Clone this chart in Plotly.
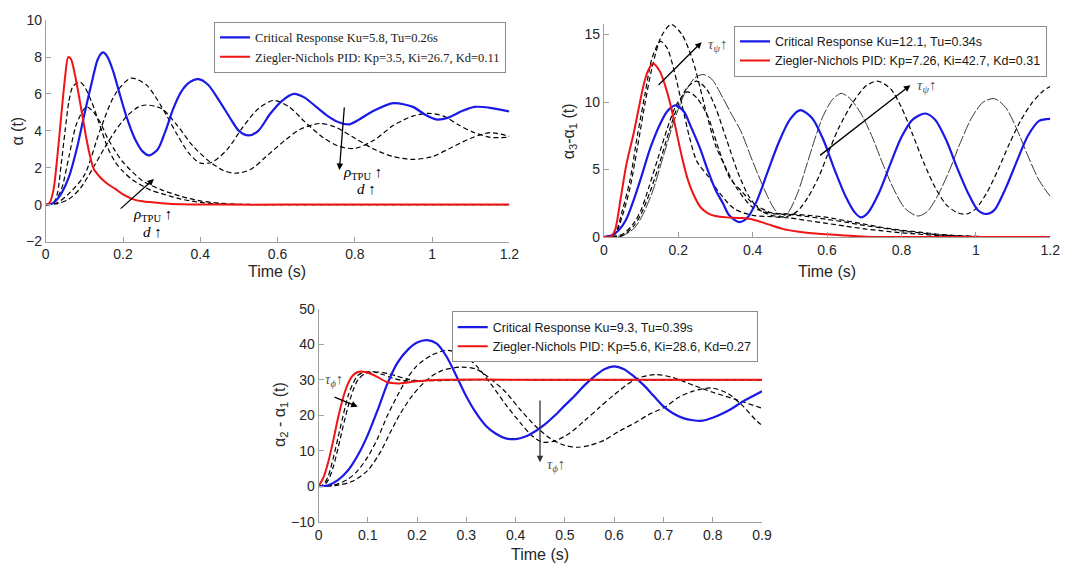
"""Control responses of the three joint angles: critical response vs Ziegler-Nichols PID."""

import plotly.graph_objects as go

# ---------------- top-left panel: alpha(t) ----------------
tl_blue_t = [0, 0.01, 0.02, 0.04, 0.06, 0.08, 0.1, 0.12, 0.135, 0.148, 0.16, 0.175, 0.19, 0.21, 0.23, 0.25, 0.268,
             0.29, 0.31, 0.33, 0.35, 0.37, 0.395, 0.42, 0.45, 0.48, 0.5, 0.525, 0.55, 0.58, 0.61, 0.642, 0.67, 0.7,
             0.73, 0.76, 0.785, 0.81, 0.85, 0.9, 0.95, 0.98, 1.01, 1.04, 1.08, 1.11, 1.15, 1.2]
tl_blue_y = [0, 0.02, 0.1, 0.6, 1.5, 3.0, 4.9, 6.7, 7.9, 8.25, 8.0, 7.2, 6.1, 4.7, 3.6, 2.9, 2.67,
             3.0, 4.0, 5.2, 6.1, 6.6, 6.8, 6.5, 5.6, 4.6, 4.0, 3.75, 4.0, 4.9, 5.6, 6.0, 5.8, 5.3,
             4.8, 4.45, 4.35, 4.6, 5.1, 5.5, 5.3, 4.9, 4.62, 4.7, 5.1, 5.3, 5.25, 5.05]
tl_red_t = [0, 0.01, 0.02, 0.03, 0.04, 0.05, 0.058, 0.065, 0.075, 0.085, 0.095, 0.105, 0.115, 0.125, 0.14, 0.15,
            0.165, 0.18, 0.2, 0.225, 0.25, 0.3, 0.35, 0.45, 0.6, 0.8, 1.0, 1.2]
tl_red_y = [0, 0.1, 0.8, 2.6, 4.8, 6.9, 8.0, 7.9, 7.1, 6.0, 4.8, 3.6, 2.6, 1.9, 1.5, 1.3,
            1.05, 0.85, 0.55, 0.3, 0.18, 0.08, 0.02, 0, 0, 0, 0, 0]
tl_dash_t = [
    [0, 0.02, 0.03, 0.04, 0.05, 0.06, 0.07, 0.088, 0.1, 0.12, 0.14, 0.16, 0.18, 0.2, 0.224, 0.27, 0.3, 0.35,
     0.4, 0.45, 0.6, 0.8, 1.0, 1.2],
    [0, 0.02, 0.04, 0.06, 0.08, 0.105, 0.12, 0.14, 0.16, 0.18, 0.2, 0.25, 0.3, 0.35, 0.4, 0.45, 0.5, 0.7,
     1.0, 1.2],
    [0, 0.03, 0.06, 0.1, 0.14, 0.18, 0.22, 0.26, 0.3, 0.34, 0.37, 0.4, 0.43, 0.47, 0.51, 0.55, 0.59, 0.63,
     0.67, 0.72, 0.76, 0.8, 0.85, 0.9, 0.95, 0.99, 1.03, 1.07, 1.11, 1.15, 1.2],
    [0, 0.03, 0.06, 0.09, 0.12, 0.15, 0.18, 0.21, 0.24, 0.26, 0.3, 0.34, 0.38, 0.42, 0.46, 0.49, 0.53, 0.57,
     0.62, 0.66, 0.71, 0.75, 0.8, 0.85, 0.9, 0.95, 1.0, 1.05, 1.1, 1.15, 1.2],
]
tl_dash_y = [
    [0, 0.1, 0.6, 2.2, 4.0, 5.6, 6.4, 6.65, 6.4, 5.5, 4.3, 3.1, 2.3, 1.8, 1.35, 0.8, 0.6, 0.3,
     0.12, 0.03, 0, 0, 0, 0],
    [0, 0.1, 0.8, 2.6, 4.4, 5.3, 5.1, 4.5, 3.6, 2.9, 2.3, 1.3, 0.8, 0.45, 0.2, 0.08, 0.02, 0,
     0, 0],
    [0, 0.1, 0.6, 1.6, 4.0, 6.0, 6.85, 6.5, 5.3, 3.8, 2.8, 2.25, 2.3, 3.0, 4.2, 5.2, 5.65, 5.3,
     4.5, 3.6, 3.15, 3.05, 3.5, 4.3, 4.8, 4.95, 4.8, 4.3, 3.9, 3.65, 3.65],
    [0, 0.05, 0.3, 0.9, 1.9, 3.0, 4.0, 4.8, 5.3, 5.4, 5.2, 4.3, 3.2, 2.4, 1.85, 1.7, 1.9, 2.6,
     3.5, 4.1, 4.4, 4.2, 3.6, 3.0, 2.6, 2.45, 2.6, 3.1, 3.6, 3.9, 3.7],
]

# ---------------- top-right panel: alpha3 - alpha1 ----------------
tr_blue_t = [0, 0.02, 0.04, 0.06, 0.081, 0.1, 0.125, 0.15, 0.17, 0.192, 0.215, 0.235, 0.258, 0.28, 0.3, 0.32,
             0.337, 0.364, 0.385, 0.41, 0.44, 0.47, 0.5, 0.528, 0.56, 0.59, 0.62, 0.65, 0.675, 0.691, 0.71, 0.74,
             0.77, 0.8, 0.83, 0.864, 0.89, 0.92, 0.95, 0.98, 1.005, 1.028, 1.05, 1.08, 1.11, 1.14, 1.17, 1.2]
tr_blue_y = [0, 0.1, 0.5, 1.3, 2.8, 4.4, 6.6, 8.3, 9.3, 9.75, 9.3, 8.1, 6.6, 4.9, 3.5, 2.5,
             1.6, 1.1, 1.4, 2.6, 4.8, 7.0, 8.7, 9.4, 8.8, 7.2, 5.0, 3.0, 1.8, 1.45, 1.8, 3.3,
             5.4, 7.4, 8.7, 9.15, 8.7, 7.2, 5.1, 3.2, 2.0, 1.7, 2.0, 3.6, 5.6, 7.5, 8.6, 8.75]
tr_red_t = [0, 0.02, 0.03, 0.046, 0.06, 0.081, 0.108, 0.12, 0.132, 0.15, 0.165, 0.18, 0.195, 0.21, 0.225, 0.24,
            0.26, 0.28, 0.3, 0.33, 0.37, 0.4, 0.44, 0.48, 0.52, 0.56, 0.6, 0.65, 0.72, 0.8, 1.0, 1.2]
tr_red_y = [0, 0.05, 0.5, 3.0, 5.3, 7.8, 11.4, 12.4, 12.85, 12.3, 11.2, 9.7, 7.8, 5.9, 4.3, 3.2,
            2.2, 1.75, 1.55, 1.45, 1.4, 1.3, 0.95, 0.6, 0.4, 0.27, 0.2, 0.1, 0.0, 0, 0, 0]
tr_dash_t = [
    [0, 0.03, 0.05, 0.07, 0.09, 0.11, 0.13, 0.152, 0.17, 0.19, 0.21, 0.23, 0.25, 0.28, 0.31, 0.35, 0.4, 0.45,
     0.5, 0.55, 0.6, 0.65, 0.7, 0.75, 0.8, 0.85, 0.9, 0.95, 1.0, 1.2],
    [0, 0.03, 0.05, 0.07, 0.09, 0.11, 0.13, 0.155, 0.181, 0.21, 0.24, 0.27, 0.3, 0.33, 0.36, 0.4, 0.45, 0.5,
     0.55, 0.6, 0.65, 0.7, 0.75, 0.8, 0.85, 0.9, 0.95, 1.0, 1.05, 1.2],
    [0, 0.05, 0.08, 0.1, 0.12, 0.145, 0.17, 0.195, 0.224, 0.25, 0.28, 0.31, 0.34, 0.37, 0.4, 0.45, 0.5, 0.55,
     0.6, 0.65, 0.7, 0.75, 0.8, 0.85, 0.9, 0.95, 1.0, 1.05, 1.2],
    [0, 0.05, 0.08, 0.1, 0.125, 0.15, 0.175, 0.2, 0.225, 0.249, 0.275, 0.3, 0.33, 0.36, 0.39, 0.42, 0.45, 0.49,
     0.52, 0.55, 0.58, 0.6, 0.63, 0.67, 0.705, 0.735, 0.77, 0.8, 0.83, 0.86, 0.89, 0.92, 0.95, 0.975, 1.0,
     1.03, 1.06, 1.09, 1.12, 1.15, 1.18, 1.2],
]
tr_dash_y = [
    [0, 0.3, 2.0, 4.2, 7.5, 10.5, 13.3, 14.5, 14.0, 12.2, 9.8, 7.4, 5.6, 4.5, 3.3, 2.1, 1.6, 1.5,
     1.4, 1.2, 1.0, 0.8, 0.6, 0.45, 0.3, 0.2, 0.1, 0.05, 0, 0],
    [0, 0.2, 1.6, 3.6, 6.6, 9.8, 12.6, 14.9, 15.75, 15.0, 13.0, 9.8, 6.8, 5.0, 3.5, 2.2, 1.75, 1.65,
     1.5, 1.3, 1.1, 0.85, 0.65, 0.45, 0.3, 0.15, 0.08, 0.03, 0, 0],
    [0, 0.2, 1.0, 2.0, 3.6, 5.8, 8.0, 9.8, 10.75, 10.3, 8.9, 6.4, 4.3, 3.4, 2.5, 1.8, 1.7, 1.6,
     1.45, 1.2, 0.95, 0.7, 0.5, 0.35, 0.2, 0.1, 0.05, 0, 0],
    [0, 0.1, 0.8, 1.7, 3.4, 5.5, 7.8, 9.8, 11.1, 11.55, 11.0, 9.6, 7.2, 4.8, 3.0, 2.0, 1.6, 1.5,
     1.9, 3.0, 4.6, 6.0, 8.0, 10.0, 11.2, 11.55, 11.0, 9.6, 7.6, 5.5, 3.7, 2.4, 1.8, 1.7, 2.1,
     3.3, 5.0, 6.9, 8.6, 9.9, 10.8, 11.15],
]
tr_thin_t = [0, 0.05, 0.08, 0.1, 0.13, 0.16, 0.19, 0.22, 0.245, 0.267, 0.29, 0.32, 0.345, 0.369, 0.4, 0.44, 0.46,
             0.478, 0.495, 0.52, 0.546, 0.57, 0.59, 0.615, 0.638, 0.66, 0.69, 0.72, 0.75, 0.78, 0.81, 0.845,
             0.87, 0.9, 0.93, 0.96, 0.99, 1.02, 1.05, 1.08, 1.11, 1.14, 1.17, 1.2]
tr_thin_y = [0, 0.1, 0.6, 1.4, 3.3, 6.0, 8.7, 10.8, 11.8, 12.04, 11.7, 10.3, 9.0, 7.8, 5.6, 3.0, 2.0,
             1.5, 1.8, 3.2, 5.4, 7.5, 9.0, 10.2, 10.64, 10.3, 9.2, 7.5, 5.4, 3.5, 2.1, 1.55,
             1.9, 3.2, 5.0, 7.1, 8.9, 10.0, 10.25, 9.6, 8.0, 6.0, 4.2, 3.0]

# ---------------- bottom panel: alpha2 - alpha1 ----------------
bt_blue_t = [0, 0.02, 0.04, 0.06, 0.08, 0.1, 0.12, 0.14, 0.16, 0.18, 0.2, 0.22, 0.24, 0.26, 0.28, 0.3, 0.32,
             0.34, 0.36, 0.38, 0.4, 0.42, 0.44, 0.46, 0.48, 0.5, 0.52, 0.54, 0.56, 0.58, 0.6, 0.62, 0.64, 0.66,
             0.68, 0.7, 0.72, 0.74, 0.76, 0.78, 0.8, 0.82, 0.84, 0.86, 0.88, 0.9]
bt_blue_y = [0, 0.3, 1.8, 4.5, 8.8, 14.5, 21.5, 29.0, 34.8, 38.3, 40.5, 41.2, 40.2, 36.5, 31.0, 25.3, 20.6,
             17.0, 14.8, 13.5, 13.3, 14.0, 15.5, 17.5, 20.0, 22.8, 25.5, 28.5, 31.0, 33.0, 33.8, 33.0, 31.0, 28.5,
             25.5, 22.5, 20.5, 19.2, 18.6, 18.5, 19.3, 20.5, 22.0, 23.8, 25.3, 26.8]
bt_red_t = [0, 0.01, 0.02, 0.03, 0.04, 0.05, 0.06, 0.07, 0.08, 0.09, 0.1, 0.117, 0.14, 0.164, 0.2, 0.25, 0.5,
            0.9]
bt_red_y = [0, 2.5, 7.0, 13.0, 19.5, 25.0, 29.0, 31.3, 32.2, 32.3, 32.0, 31.0, 29.3, 29.0, 29.6, 30.0, 30.0,
            30.0]
bt_dash_t = [
    [0, 0.01, 0.02, 0.03, 0.04, 0.05, 0.06, 0.07, 0.08, 0.095, 0.11, 0.13, 0.15, 0.17, 0.2, 0.25, 0.5, 0.9],
    [0, 0.01, 0.02, 0.03, 0.04, 0.05, 0.06, 0.07, 0.08, 0.095, 0.124, 0.14, 0.16, 0.18, 0.2, 0.25, 0.3, 0.5,
     0.9],
    [0, 0.03, 0.06, 0.08, 0.1, 0.12, 0.14, 0.16, 0.18, 0.2, 0.23, 0.26, 0.29, 0.32, 0.35, 0.38, 0.41, 0.435,
     0.455, 0.48, 0.51, 0.54, 0.57, 0.6, 0.644, 0.684, 0.72, 0.76, 0.8, 0.85, 0.9],
    [0, 0.04, 0.07, 0.1, 0.127, 0.145, 0.164, 0.19, 0.22, 0.25, 0.29, 0.32, 0.35, 0.38, 0.41, 0.44, 0.47, 0.5,
     0.524, 0.55, 0.58, 0.61, 0.644, 0.67, 0.704, 0.73, 0.76, 0.797, 0.83, 0.86, 0.89, 0.9],
]
bt_dash_y = [
    [0, 0.5, 3.0, 8.0, 14.0, 20.0, 25.5, 29.0, 31.3, 32.2, 32.3, 31.5, 30.5, 29.8, 29.7, 30.0, 30.0, 30.0],
    [0, 0.2, 1.8, 5.5, 11.0, 17.0, 22.5, 27.0, 30.0, 31.8, 32.2, 31.8, 31.0, 30.2, 29.8, 29.8, 30.0, 30.0,
     30.0],
    [0, 0.3, 2.0, 4.5, 8.3, 13.5, 20.0, 25.5, 30.5, 34.0, 37.0, 38.3, 37.3, 34.0, 28.8, 23.0, 17.8, 14.0,
     12.4, 12.8, 15.0, 18.5, 22.2, 25.8, 30.2, 31.5, 30.6, 28.5, 26.5, 24.3, 22.0],
    [0, 0.3, 1.5, 4.5, 10.0, 15.0, 20.0, 25.5, 30.0, 32.6, 33.6, 33.0, 30.2, 26.5, 21.5, 17.0, 13.5, 11.5,
     11.0, 11.5, 13.0, 15.5, 18.0, 20.2, 22.4, 25.0, 26.8, 27.7, 26.2, 22.8, 18.3, 17.2],
]

legend_tl = ['Critical Response Ku=5.8, Tu=0.26s', 'Ziegler-Nichols PID: Kp=3.5, Ki=26.7, Kd=0.11']
legend_tr = ['Critical Response Ku=12.1, Tu=0.34s', 'Ziegler-Nichols PID: Kp=7.26, Ki=42.7, Kd=0.31']
legend_bt = ['Critical Response Ku=9.3, Tu=0.39s', 'Ziegler-Nichols PID: Kp=5.6, Ki=28.6, Kd=0.27']

W, H = 1072, 572
OFF = 8  # page margin around the plot div
BLUE = '#1a1ae6'
RED = '#f01414'
AXC = '#a0a0a0'
SANS = 'Liberation Sans, Arial, sans-serif'
SERIF = 'Liberation Serif, Times New Roman, serif'


def px(x):
    return (x - OFF) / W


def py(y):
    return 1 - (y - OFF) / H


fig = go.Figure()


def add_line(t, y, xa, ya, color, width, dash='solid', name=None, legend=None):
    fig.add_trace(go.Scatter(
        x=t, y=y, xaxis=xa, yaxis=ya, mode='lines',
        line=dict(color=color, width=width, dash=dash, shape='spline', smoothing=0.8),
        name=name, showlegend=name is not None, legend=legend, hoverinfo='skip'
    ))


DASH = '5px,3px'

# top-left
for t, y in zip(tl_dash_t, tl_dash_y):
    add_line(t, y, 'x', 'y', 'black', 1.2, DASH)
add_line(tl_blue_t, tl_blue_y, 'x', 'y', BLUE, 2.2, name=legend_tl[0], legend='legend')
add_line(tl_red_t, tl_red_y, 'x', 'y', RED, 2.0, name=legend_tl[1], legend='legend')

# top-right
for t, y in zip(tr_dash_t, tr_dash_y):
    add_line(t, y, 'x2', 'y2', 'black', 1.2, DASH)
add_line(tr_thin_t, tr_thin_y, 'x2', 'y2', '#222222', 0.9, '12px,2px')
add_line(tr_blue_t, tr_blue_y, 'x2', 'y2', BLUE, 2.2, name=legend_tr[0], legend='legend2')
add_line(tr_red_t, tr_red_y, 'x2', 'y2', RED, 2.0, name=legend_tr[1], legend='legend2')

# bottom
for t, y in zip(bt_dash_t, bt_dash_y):
    add_line(t, y, 'x3', 'y3', 'black', 1.2, DASH)
add_line(bt_blue_t, bt_blue_y, 'x3', 'y3', BLUE, 2.2, name=legend_bt[0], legend='legend3')
add_line(bt_red_t, bt_red_y, 'x3', 'y3', RED, 2.0, name=legend_bt[1], legend='legend3')


def axis_style(dom, rng, tickvals, anchor):
    return dict(
        domain=dom, range=rng, tickvals=tickvals, anchor=anchor,
        showline=True, linecolor=AXC, linewidth=1, ticks='inside', ticklen=5, tickcolor=AXC,
        showgrid=False, zeroline=False, tickfont=dict(family=SANS, size=14, color='#262626'),
    )


def legend_style(xr, yt, family):
    return dict(x=px(xr), y=py(yt), xanchor='right', yanchor='top', bgcolor='white',
                bordercolor='#8c8c8c', borderwidth=1, font=dict(family=family, size=12.5, color='#1a1a1a'),
                itemwidth=30, tracegroupgap=0)


fig.update_layout(
    width=W, height=H, autosize=False,
    margin=dict(l=0, r=0, t=0, b=0),
    paper_bgcolor='white', plot_bgcolor='white',
    xaxis=axis_style([px(42.2), px(512)], [0, 1.2], [0, 0.2, 0.4, 0.6, 0.8, 1, 1.2], 'y'),
    yaxis=axis_style([py(240), py(12.3)], [-2, 10], [-2, 0, 2, 4, 6, 8, 10], 'x'),
    xaxis2=axis_style([px(607.7), px(1060)], [0, 1.2], [0, 0.2, 0.4, 0.6, 0.8, 1, 1.2], 'y2'),
    yaxis2=axis_style([py(235.3), py(16)], [0, 15.8], [0, 5, 10, 15], 'x2'),
    xaxis3=axis_style([px(318.6), px(767.9)], [0, 0.9], [0, 0.1, 0.2, 0.3, 0.4, 0.5, 0.6, 0.7, 0.8, 0.9], 'y3'),
    yaxis3=axis_style([py(528.3), py(309.3)], [-10, 50], [-10, 0, 10, 20, 30, 40, 50], 'x3'),
    legend=legend_style(508.6, 14, SERIF),
    legend2=legend_style(1056.7, 18, SANS),
    legend3=legend_style(763.6, 312, SANS),
)

annotations = []

# axis titles
for xc, yc, txt in [(277, 271, 'Time (s)'), (834, 271, 'Time (s)'), (543, 562, 'Time (s)')]:
    annotations.append(dict(x=px(xc), y=py(yc), xref='paper', yref='paper', text=txt, showarrow=False,
                            xanchor='center', yanchor='middle',
                            font=dict(family=SANS, size=16, color='#262626')))
for xc, yc, txt in [(14, 126, 'α (t)'), (573, 127, 'α<sub>3</sub>-α<sub>1</sub> (t)'),
                    (280, 418, 'α<sub>2</sub> - α<sub>1</sub> (t)')]:
    annotations.append(dict(x=px(xc), y=py(yc), xref='paper', yref='paper', text=txt, showarrow=False,
                            xanchor='center', yanchor='middle', textangle=-90,
                            font=dict(family=SANS, size=16, color='#262626')))

# arrows (head x,y ; tail ax,ay)
arrows = [
    ('x', 'y', 0.28, 1.39, 0.19, -0.29, 'black'),
    ('x', 'y', 0.76, 1.88, 0.773, 5.35, 'black'),
    ('x2', 'y2', 0.263, 14.44, 0.143, 11.15, 'black'),
    ('x2', 'y2', 0.824, 11.25, 0.577, 5.96, 'black'),
    ('x3', 'y3', 0.0795, 22.4, 0.0295, 25.3, 'black'),
    ('x3', 'y3', 0.4495, 6.8, 0.4495, 24.6, '#333333'),
]
for xa, ya, hx, hy, tx, ty, col in arrows:
    annotations.append(dict(x=hx, y=hy, ax=tx, ay=ty, xref=xa, yref=ya, axref=xa, ayref=ya, text='',
                            showarrow=True, arrowhead=2, arrowsize=1, arrowwidth=1.3, arrowcolor=col))

rho = '<i>ρ</i><sub>TPU</sub> <b>↑</b>'
dlab = '<i>d</i> <b>↑</b>'
tau_psi = '<i>τ</i><sub><i>ψ</i></sub><b>↑</b>'
tau_phi = '<i>τ</i><sub><i>ϕ</i></sub><b>↑</b>'
labels = [
    ('x', 'y', 0.275, -0.55, rho, 'black'), ('x', 'y', 0.275, -1.5, dlab, 'black'),
    ('x', 'y', 0.82, 1.7, rho, 'black'), ('x', 'y', 0.829, 0.87, dlab, 'black'),
    ('x2', 'y2', 0.305, 14.2, tau_psi, '#555555'), ('x2', 'y2', 0.866, 11.2, tau_psi, '#555555'),
    ('x3', 'y3', 0.032, 30.0, tau_phi, '#555555'), ('x3', 'y3', 0.482, 6.0, tau_phi, '#555555'),
]
for xa, ya, xv, yv, txt, col in labels:
    annotations.append(dict(x=xv, y=yv, xref=xa, yref=ya, text=txt, showarrow=False,
                            xanchor='center', yanchor='middle',
                            font=dict(family=SERIF, size=15, color=col)))

fig.update_layout(annotations=annotations)

fig.write_html("out.html")
